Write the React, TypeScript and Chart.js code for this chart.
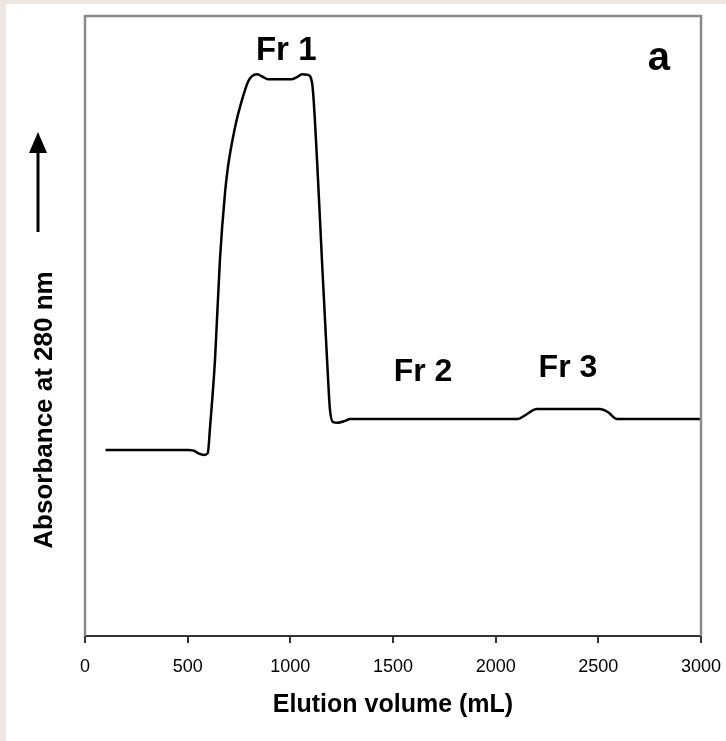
import React, { useEffect, useRef } from "react";
import { Chart, registerables } from "chart.js";

Chart.register(...registerables);

// Elution profile (x in mL, y in relative absorbance units 0-100)
const elutionVolume = [100, 500, 530, 555, 580, 598, 609, 633, 657, 682, 696, 731, 765, 794, 813, 838, 865, 891, 950, 1008, 1035, 1057, 1086, 1106, 1130, 1154, 1179, 1193, 1208, 1232, 1266, 1291, 1700, 2109, 2143, 2201, 2350, 2508, 2547, 2591, 3000];
const absorbance = [30.0, 30.0, 29.9, 29.4, 29.2, 29.5, 33.7, 44.5, 60.6, 71.5, 75.6, 82.1, 86.5, 89.4, 90.3, 90.6, 90.2, 89.8, 89.8, 89.8, 90.2, 90.6, 90.5, 89.2, 76.8, 60.6, 44.5, 36.5, 34.5, 34.4, 34.7, 35.0, 35.0, 35.0, 35.6, 36.6, 36.6, 36.6, 36.1, 35.0, 35.0];

const xTickStep = 500;
const xMin = 0;
const xMax = 3000;
const yMin = 0;
const yMax = 100;

const fractionLabels = ["Fr 1", "Fr 2", "Fr 3"];
const fractionLabelX = [980, 1646, 2352];
const fractionLabelY = [92.9, 41.1, 41.8];
const panelLetter = "a";
const panelLetterX = 2795;
const panelLetterY = 91.3;

const xTitle = "Elution volume (mL)";
const yTitle = "Absorbance at 280 nm";

const FONT = "'Liberation Sans', Arial, Helvetica, sans-serif";

export default function App() {
  const ref = useRef<HTMLCanvasElement | null>(null);

  useEffect(() => {
    document.body.style.margin = "0";
    const canvas = ref.current;
    if (!canvas) return;

    const decor = {
      id: "decor",
      beforeDraw(chart: any) {
        const ctx = chart.ctx;
        ctx.save();
        ctx.fillStyle = "#ece7e2";
        ctx.fillRect(0, 0, chart.width, chart.height);
        ctx.fillStyle = "#ffffff";
        ctx.fillRect(6, 4, chart.width - 6, chart.height - 4);
        ctx.restore();
      },
      afterDraw(chart: any) {
        const ctx = chart.ctx;
        const a = chart.chartArea;
        const xs = chart.scales.x;
        const ys = chart.scales.y;
        ctx.save();
        // gray frame (left, top, right)
        ctx.strokeStyle = "#8a8a8a";
        ctx.lineWidth = 2.5;
        ctx.beginPath();
        ctx.moveTo(a.left, a.bottom);
        ctx.lineTo(a.left, a.top);
        ctx.lineTo(a.right, a.top);
        ctx.lineTo(a.right, a.bottom);
        ctx.stroke();

        // fraction labels
        ctx.fillStyle = "#000";
        ctx.textAlign = "center";
        ctx.textBaseline = "alphabetic";
        fractionLabels.forEach((t, i) => {
          ctx.font = `bold ${i === 0 ? 33 : 32}px ${FONT}`;
          ctx.fillText(t, xs.getPixelForValue(fractionLabelX[i]), ys.getPixelForValue(fractionLabelY[i]));
        });
        ctx.font = `bold 40px ${FONT}`;
        ctx.fillText(panelLetter, xs.getPixelForValue(panelLetterX), ys.getPixelForValue(panelLetterY));

        // y title rotated
        ctx.save();
        ctx.translate(52, 410);
        ctx.rotate(-Math.PI / 2);
        ctx.font = `bold 26px ${FONT}`;
        ctx.textAlign = "center";
        ctx.textBaseline = "alphabetic";
        ctx.fillText(yTitle, 0, 0);
        ctx.restore();

        // arrow
        ctx.strokeStyle = "#000";
        ctx.lineWidth = 3;
        ctx.beginPath();
        ctx.moveTo(38, 232);
        ctx.lineTo(38, 150);
        ctx.stroke();
        ctx.beginPath();
        ctx.moveTo(38, 132);
        ctx.lineTo(29, 153);
        ctx.lineTo(47, 153);
        ctx.closePath();
        ctx.fill();
        ctx.restore();
      },
    };

    const chart = new Chart(canvas, {
      type: "line",
      data: {
        datasets: [
          {
            data: elutionVolume.map((v, i) => ({ x: v, y: absorbance[i] })),
            borderColor: "#000",
            borderWidth: 2.5,
            pointRadius: 0,
            cubicInterpolationMode: "monotone",
            fill: false,
          },
        ],
      },
      options: {
        animation: false,
        responsive: false,
        maintainAspectRatio: false,
        events: [],
        layout: { padding: { left: 85, top: 16, right: 25, bottom: 0 } },
        plugins: { legend: { display: false }, tooltip: { enabled: false }, title: { display: false } },
        scales: {
          x: {
            type: "linear",
            min: xMin,
            max: xMax,
            afterFit: (s: any) => {
              s.height = 105;
              s.paddingLeft = 0;
              s.paddingRight = 0;
            },
            ticks: {
              stepSize: xTickStep,
              color: "#000",
              padding: 13,
              maxRotation: 0,
              font: { family: FONT, size: 18 },
              callback: (v: any) => String(v),
            },
            grid: {
              display: true,
              drawOnChartArea: false,
              drawTicks: true,
              tickLength: 7,
              color: "#333",
              lineWidth: 2,
            },
            border: { display: true, color: "#333", width: 2 },
            title: {
              display: true,
              text: xTitle,
              color: "#000",
              font: { family: FONT, size: 25, weight: "bold" },
              padding: { top: 0, bottom: 21 },
            },
          },
          y: {
            type: "linear",
            min: yMin,
            max: yMax,
            display: false,
          },
        },
      },
      plugins: [decor],
    });

    return () => chart.destroy();
  }, []);

  return (
    <div style={{ width: 726, height: 741 }}>
      <canvas ref={ref} width={726} height={741} style={{ display: "block" }} />
    </div>
  );
}
